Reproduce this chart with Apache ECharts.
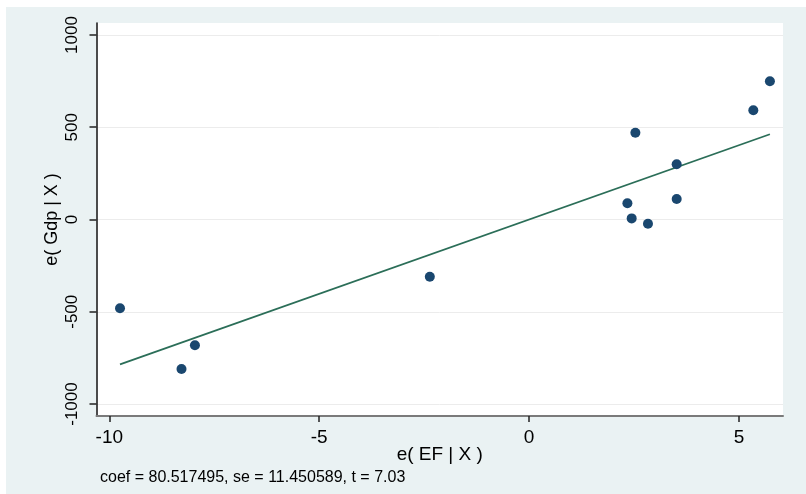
<!DOCTYPE html>
<html>
<head>
<meta charset="utf-8">
<script src="https://cdn.jsdelivr.net/npm/echarts@6/dist/echarts.min.js"></script>
<style>
html,body{margin:0;padding:0;background:#ffffff;}
#chart{width:806px;height:494px;}
</style>
</head>
<body>
<div id="chart"></div>
<script>
// residual pairs
var efResid  = [-9.745, -8.28, -7.96, -2.364, 2.533, 2.343, 2.445, 2.833, 3.517, 3.517, 5.343, 5.738];
var gdpResid = [-481, -810, -682, -310, 470, 88, 6, -23, 299, 111, 592, 749];
// fitted line endpoints (as drawn)
var fitX = [-9.745, 5.738];
var fitY = [-785, 462];
var xTicks = [-10, -5, 0, 5];
var yTicks = [-1000, -500, 0, 500, 1000];
var noteText = 'coef = 80.517495, se = 11.450589, t = 7.03';
var xTitle = 'e( EF | X )';
var yTitle = 'e( Gdp | X )';

var points = efResid.map(function (x, i) { return [x, gdpResid[i]]; });
var fit = fitX.map(function (x, i) { return [x, fitY[i]]; });
var font = 'Liberation Sans, Arial, sans-serif';

var chart = echarts.init(document.getElementById('chart'), null, {renderer: 'canvas'});
chart.setOption({
  animation: false,
  backgroundColor: '#ffffff',
  graphic: [
    {type: 'rect', z: -10, silent: true, shape: {x: 6, y: 7, width: 800, height: 487}, style: {fill: '#eaf2f3'}},
    {type: 'text', left: 100, top: 470, silent: true,
     style: {text: noteText, font: '16px ' + font, fill: '#000'}}
  ],
  grid: {left: 96.5, right: 23, top: 23, bottom: 78, show: true, backgroundColor: '#ffffff', borderWidth: 0},
  xAxis: {
    type: 'value', min: -10.305, max: 6.05,
    name: xTitle, nameLocation: 'middle', nameGap: 39, nameMoveOverlap: false,
    nameTextStyle: {fontSize: 19, color: '#000', fontFamily: font, verticalAlign: 'middle'},
    axisLine: {show: true, onZero: false, lineStyle: {color: '#7a7a7a', width: 2}},
    axisTick: {show: true, length: 6, customValues: xTicks, lineStyle: {color: '#222', width: 1.5}},
    axisLabel: {customValues: xTicks, fontSize: 19, color: '#000', fontFamily: font, margin: 12,
                formatter: function (v) { return String(v); }},
    splitLine: {show: false}
  },
  yAxis: {
    type: 'value', min: -1065, max: 1065,
    name: yTitle, nameLocation: 'middle', nameGap: 44, nameRotate: 90, nameMoveOverlap: false,
    nameTextStyle: {fontSize: 18, color: '#000', fontFamily: font, verticalAlign: 'middle'},
    axisLine: {show: true, onZero: false, lineStyle: {color: '#111', width: 1.5}},
    axisTick: {show: true, length: 7, customValues: yTicks, lineStyle: {color: '#222', width: 1.5}},
    axisLabel: {customValues: yTicks, rotate: 90, fontSize: 17, color: '#000', fontFamily: font, margin: 16,
                formatter: function (v) { return String(v); }},
    splitLine: {show: true, lineStyle: {color: '#ececec', width: 1}}
  },
  series: [
    {
      type: 'line', data: fit, symbol: 'none', z: 2,
      lineStyle: {color: '#2b6e58', width: 1.8}
    },
    {
      type: 'scatter', data: points, symbol: 'circle', symbolSize: 10, z: 3,
      itemStyle: {color: '#1a476f', opacity: 1}
    }
  ]
});
</script>
</body>
</html>
